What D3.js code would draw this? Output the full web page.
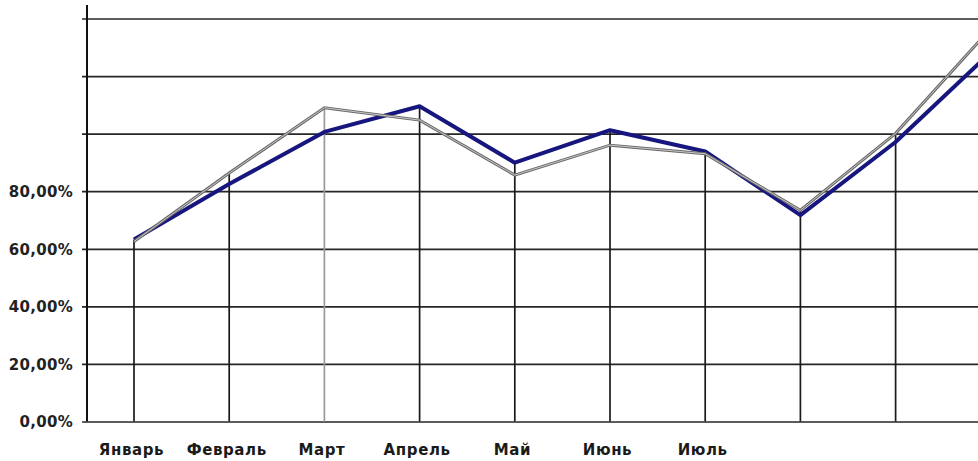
<!DOCTYPE html>
<html><head><meta charset="utf-8">
<script src="https://cdn.jsdelivr.net/npm/d3@7"></script>
<style>body{margin:0;background:#fff}svg{display:block}</style>
</head><body>
<svg id="c" width="978" height="461"></svg>
<script>
const months = ["Январь","Февраль","Март","Апрель","Май","Июнь","Июль","","",""];
const seriesBlue = [63.2, 82.5, 100.6, 109.5, 89.9, 101.2, 93.8, 71.7, 97.1, 128.3];
const seriesGray = [62.5, 86.3, 109.0, 104.7, 85.6, 96.0, 93.0, 73.4, 100.1, 136.6];
const yTicks = [0, 20, 40, 60, 80, 100, 120, 140];
const yTickLabels = ["0,00%","20,00%","40,00%","60,00%","80,00%","","",""];

const svg = d3.select("#c");
const x = d3.scaleLinear().domain([0, months.length - 1]).range([134, 134 + 95.2 * (months.length - 1)]);
const y = d3.scaleLinear().domain([0, 140]).range([421.5, 18.5]);
const font = "'DejaVu Sans', sans-serif";

// horizontal gridlines + ticks
const yAxis = d3.axisLeft(y).tickValues(yTicks).tickSize(-(978 - 87)).tickSizeOuter(0)
  .tickFormat((d, i) => yTickLabels[i]).tickPadding(10);
const ga = svg.append("g").attr("transform", "translate(87,0)").call(yAxis);
ga.select(".domain").remove();
ga.selectAll(".tick line").attr("x1", -5).attr("stroke", "#262626").attr("stroke-width", 1.7);
ga.selectAll(".tick text").attr("font-family", font).attr("font-weight", "bold")
  .attr("font-size", 15).attr("letter-spacing", 0.3).attr("fill", "#222").attr("x", -14).attr("dy", "0.35em");

// y axis line
svg.append("line").attr("x1", 87).attr("x2", 87).attr("y1", 5).attr("y2", y(0))
  .attr("stroke", "#111").attr("stroke-width", 2);

// drop lines
const idx = d3.range(months.length);
svg.append("g").selectAll("line").data(idx).join("line")
  .attr("x1", i => x(i)).attr("x2", i => x(i))
  .attr("y1", i => y(Math.max(seriesBlue[i], seriesGray[i]))).attr("y2", y(0))
  .attr("stroke", i => i === 2 ? "#9a9a9a" : "#1a1a1a").attr("stroke-width", 1.7);

// category labels
const xAxis = d3.axisBottom(x).tickValues(idx).tickSize(0).tickFormat(i => months[i]);
const gx = svg.append("g").attr("transform", `translate(-3,${y(0)})`).call(xAxis);
gx.select(".domain").remove();
gx.selectAll(".tick text").attr("font-family", font).attr("font-weight", "bold")
  .attr("font-size", 15).attr("letter-spacing", 0.6).attr("fill", "#1a1a1a").attr("y", 23);

const line = d3.line().x((d, i) => x(i)).y(d => y(d));

// blue series
svg.append("path").datum(seriesBlue).attr("d", line).attr("fill", "none")
  .attr("stroke", "#16167e").attr("stroke-width", 4).attr("stroke-linejoin", "round");

// gray series (outlined)
svg.append("path").datum(seriesGray).attr("d", line).attr("fill", "none")
  .attr("stroke", "#6a6a6a").attr("stroke-width", 3).attr("stroke-linejoin", "miter");
svg.append("path").datum(seriesGray).attr("d", line).attr("fill", "none")
  .attr("stroke", "#c8c8c8").attr("stroke-width", 1);
</script>
</body></html>
